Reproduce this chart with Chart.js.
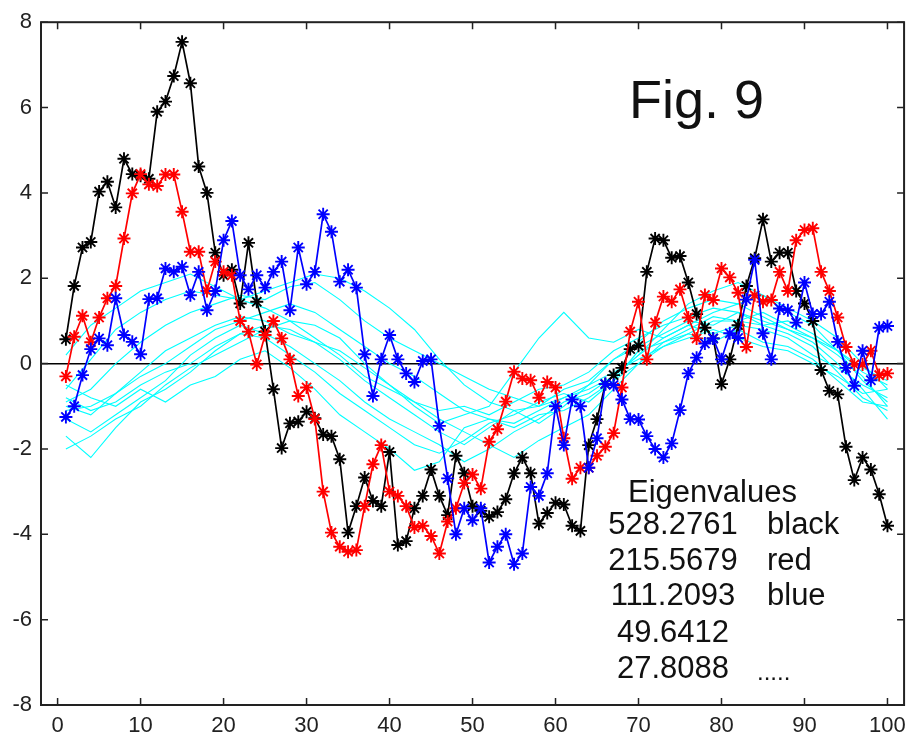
<!DOCTYPE html>
<html>
<head>
    <title>Fig. 9</title>
    <script src="https://cdn.jsdelivr.net/npm/chart.js@4.4.0/dist/chart.umd.min.js"></script>
    <style>
        body { margin: 0; background: #fff; }
    </style>
</head>
<body>
    <canvas id="chartcanvas" width="914" height="742"></canvas>

    <script>
        // samples 1..100
        const sampleIndex = [];
        for (let i = 1; i <= 100; i++) sampleIndex.push(i);

        const blackValues = [0.57, 1.82, 2.72, 2.85, 4.03, 4.26, 3.66, 4.8, 4.44, 4.4,
            4.33, 5.9, 6.14, 6.74, 7.54, 6.57, 4.62, 4.0, 2.6, 2.07,
            2.2, 1.41, 2.83, 1.45, 0.75, -0.6, -1.98, -1.4, -1.36, -1.13,
            -1.28, -1.66, -1.7, -2.24, -3.96, -3.34, -2.67, -3.22, -3.34, -2.07,
            -4.25, -4.16, -3.39, -3.1, -2.48, -3.1, -3.55, -2.16, -2.57, -3.34,
            -3.45, -3.59, -3.48, -3.18, -2.57, -2.2, -2.57, -3.75, -3.5, -3.26,
            -3.3, -3.8, -3.92, -1.91, -1.3, -0.48, -0.27, -0.1, 0.34, 0.42,
            2.15, 2.93, 2.89, 2.48, 2.52, 1.9, 1.16, 0.84, 0.59, -0.48,
            0.1, 0.9, 1.82, 2.47, 3.38, 2.39, 2.6, 2.6, 1.7, 1.41,
            1.0, -0.15, -0.64, -0.72, -1.95, -2.73, -2.2, -2.48, -3.06, -3.8];

        const redValues = [-0.3, 0.63, 1.12, 0.5, 1.08, 1.53, 1.82, 2.93, 3.99, 4.44,
            4.2, 4.16, 4.43, 4.43, 3.56, 2.62, 2.62, 1.7, 2.39, 2.15,
            2.07, 1.0, 0.75, -0.02, 0.67, 1.0, 0.59, 0.1, -0.76, -0.56,
            -1.3, -3.0, -3.96, -4.29, -4.41, -4.37, -3.34, -2.36, -1.91, -3.0,
            -3.1, -3.34, -3.84, -3.8, -4.04, -4.45, -3.7, -3.39, -2.8, -2.6,
            -2.93, -1.83, -1.54, -0.89, -0.19, -0.35, -0.39, -0.8, -0.43, -0.56,
            -1.75, -2.7, -2.44, -2.44, -2.16, -1.95, -1.63, -0.56, 0.75, 1.45,
            0.1, 0.96, 1.57, 1.45, 1.74, 1.08, 0.59, 1.61, 1.49, 2.23,
            2.02, 1.66, 0.39, 1.6, 1.45, 1.49, 2.15, 1.7, 2.89, 3.13,
            3.17, 2.15, 1.7, 1.08, 0.39, -0.02, -0.02, 0.3, -0.27, -0.23];

        const blueValues = [-1.25, -1.0, -0.27, 0.34, 0.59, 0.43, 1.53, 0.67, 0.51, 0.22,
            1.51, 1.53, 2.23, 2.15, 2.27, 1.6, 2.15, 1.25, 1.7, 2.89,
            3.34, 2.07, 1.74, 2.07, 1.78, 2.15, 2.39, 1.25, 2.72, 1.86,
            2.15, 3.5, 3.09, 1.92, 2.2, 1.78, 0.22, -0.76, 0.1, 0.67,
            0.1, -0.23, -0.43, 0.06, 0.1, -1.46, -2.69, -4.0, -3.39, -3.67,
            -3.39, -4.66, -4.29, -4.0, -4.7, -4.45, -2.89, -3.1, -2.57, -1.0,
            -1.91, -0.84, -1.0, -2.44, -1.75, -0.48, -0.5, -0.84, -1.3, -1.31,
            -1.7, -2.0, -2.2, -1.87, -1.09, -0.23, 0.14, 0.47, 0.59, 0.1,
            0.71, 0.6, 1.5, 2.43, 0.71, 0.1, 1.29, 1.25, 0.96, 1.9,
            1.16, 1.16, 1.45, 0.51, -0.1, -0.52, 0.3, -0.39, 0.84, 0.88];

        // the faint cyan components, read every 3rd sample
        const cyanIndex = [1, 4, 7, 10, 13, 16, 19, 22, 25, 28, 31, 34, 37, 40, 43, 46, 49,
            52, 55, 58, 61, 64, 67, 70, 73, 76, 79, 82, 85, 88, 91, 94, 97, 100];
        const cyan1 = [0.2, 0.9, 1.3, 1.7, 1.9, 2.1, 1.8, 1.5, 1.3, 1.0, 0.6, 0.2, -0.3, -0.6, -0.9, -1.1, -1.0,
            -1.2, -0.9, -0.6, -0.5, -0.2, 0.3, 0.6, 0.9, 1.1, 1.3, 1.2, 1.0, 0.8, 0.6, 0.3, -0.1, -0.4];
        const cyan2 = [-0.6, 0.1, 0.8, 1.2, 1.5, 1.7, 1.6, 1.5, 1.7, 1.9, 2.1, 2.0, 1.7, 1.3, 0.8, 0.1, -0.5,
            -0.9, -1.1, -1.0, -0.8, -0.6, -0.3, 0.2, 0.8, 1.4, 1.7, 1.9, 1.6, 1.3, 1.0, 0.6, 0.0, -0.6];
        const cyan3 = [-0.9, -0.6, 0.0, 0.5, 0.9, 1.2, 1.4, 1.6, 1.5, 1.8, 1.9, 1.5, 1.0, 0.6, 0.3, 0.0, -0.3,
            -0.6, -0.8, -1.0, -0.6, -0.4, 0.1, 0.5, 1.0, 1.3, 1.5, 1.4, 1.6, 1.2, 0.9, 0.3, -0.4, -0.9];
        const cyan4 = [-1.1, -1.0, -0.7, -0.2, 0.3, 0.6, 0.9, 1.1, 1.0, 0.7, 0.5, 0.3, -0.1, -0.5, -0.9, -1.3, -1.6,
            -1.9, -2.2, -1.8, -1.5, -1.2, -0.6, 0.0, 0.5, 0.8, 1.1, 1.0, 1.2, 0.9, 0.6, 0.2, -0.3, -1.0];
        const cyan5 = [-1.3, -1.6, -1.2, -0.8, -0.4, 0.2, 0.6, 0.9, 0.7, 0.4, 0.0, -0.4, -0.9, -1.3, -1.6, -1.9, -2.3,
            -2.0, -1.6, -1.3, -0.9, -0.7, -0.3, 0.2, 0.6, 0.9, 1.2, 1.4, 1.1, 0.8, 0.5, 0.0, -0.6, -1.3];
        const cyan6 = [-1.7, -2.2, -1.5, -0.9, -0.6, -0.2, 0.3, 0.7, 0.9, 0.8, 0.5, 0.1, -0.4, -0.8, -1.2, -1.6, -1.9,
            -1.5, -1.1, -1.4, -1.0, -0.5, 0.1, 0.4, 0.7, 1.0, 0.9, 1.2, 0.9, 0.7, 0.4, -0.2, -0.8, -1.1];
        const cyan7 = [-2.0, -1.7, -1.3, -1.0, -0.5, -0.1, 0.2, 0.5, 0.8, 1.0, 0.9, 0.6, 0.0, -0.5, -1.0, -1.4, -1.2,
            -1.0, -0.2, 0.6, 1.2, 0.6, 0.5, 0.8, 0.6, 0.9, 0.7, 0.9, 0.8, 0.6, 0.2, -0.1, -0.5, -0.8];
        const cyan8 = [-0.8, -1.1, -0.9, -0.5, -0.2, 0.0, 0.4, 0.7, 0.6, 0.2, -0.2, -0.7, -1.1, -1.5, -1.9, -2.1, -1.8,
            -1.4, -1.2, -0.9, -0.7, -0.9, -0.4, 0.3, 0.5, 0.7, 0.5, 0.8, 0.5, 0.4, 0.1, -0.4, -0.9, -1.0];
        const cyan9 = [-0.5, -0.8, -1.0, -0.6, -0.9, -0.5, -0.3, 0.1, 0.3, -0.1, -0.6, -1.2, -1.6, -2.0, -2.5, -2.3, -1.5,
            -1.3, -1.5, -1.2, -1.1, -0.8, -0.4, 0.0, 0.4, 0.6, 0.8, 0.6, 0.4, 0.3, 0.0, -0.3, -0.7, -0.6];
        const cyan10 = [-1.0, -1.2, -0.7, -0.3, 0.0, 0.4, 0.8, 1.0, 1.2, 1.4, 1.2, 0.8, 0.4, 0.0, -0.3, -0.7, -1.1,
            -1.3, -1.4, -1.1, -0.8, -0.5, -0.2, 0.1, 0.4, 0.7, 1.0, 1.0, 0.9, 1.0, 0.7, 0.3, -0.2, -0.5];
        const cyanSeries = [cyan1, cyan2, cyan3, cyan4, cyan5, cyan6, cyan7, cyan8, cyan9, cyan10];

        const xTicks = [0, 10, 20, 30, 40, 50, 60, 70, 80, 90, 100];
        const yTicks = [-8, -6, -4, -2, 0, 2, 4, 6, 8];

        const figTitle = 'Fig. 9';
        const eigenHeader = 'Eigenvalues';
        const eigenValues = ['528.2761', '215.5679', '111.2093', '49.6412', '27.8088'];
        const eigenNames = ['black', 'red', 'blue', '', '.....'];

        function toPoints(xs, ys) {
            return xs.map((v, i) => ({ x: v, y: ys[i] }));
        }

        const datasets = [];
        cyanSeries.forEach(s => {
            datasets.push({
                data: toPoints(cyanIndex, s),
                borderColor: '#00ffff',
                borderWidth: 1.1,
                pointRadius: 0,
                order: 5
            });
        });
        const marked = [
            [blackValues, '#000000', 3],
            [redValues, '#ff0000', 2],
            [blueValues, '#0000ff', 1]
        ];
        marked.forEach(m => {
            datasets.push({
                data: toPoints(sampleIndex, m[0]),
                borderColor: m[1],
                backgroundColor: m[1],
                borderWidth: 1.7,
                pointStyle: 'star',
                pointRadius: 6.5,
                pointBorderWidth: 1.9,
                pointBorderColor: m[1],
                order: m[2]
            });
        });

        const framePlugin = {
            id: 'frame',
            afterDraw(chart) {
                const ctx = chart.ctx;
                const a = chart.chartArea;
                const x = chart.scales.x;
                const y = chart.scales.y;
                ctx.save();
                ctx.strokeStyle = '#222';
                ctx.lineWidth = 2;
                ctx.strokeRect(a.left, a.top, a.right - a.left, a.bottom - a.top);
                ctx.lineWidth = 1.5;
                ctx.beginPath();
                xTicks.forEach(t => {
                    const px = x.getPixelForValue(t);
                    ctx.moveTo(px, a.bottom); ctx.lineTo(px, a.bottom - 7);
                    ctx.moveTo(px, a.top); ctx.lineTo(px, a.top + 7);
                });
                yTicks.forEach(t => {
                    const py = y.getPixelForValue(t);
                    ctx.moveTo(a.left, py); ctx.lineTo(a.left + 7, py);
                    ctx.moveTo(a.right, py); ctx.lineTo(a.right - 7, py);
                });
                ctx.stroke();

                ctx.fillStyle = '#111';
                ctx.textBaseline = 'alphabetic';
                ctx.font = '54px "Liberation Sans", Arial, sans-serif';
                ctx.textAlign = 'left';
                ctx.fillText(figTitle, 629, 118);

                ctx.font = '31px "Liberation Sans", Arial, sans-serif';
                ctx.fillText(eigenHeader, 628, 502);
                const baselines = [534, 570, 605, 642, 678];
                eigenValues.forEach((v, i) => {
                    ctx.textAlign = 'center';
                    ctx.fillText(v, 673, baselines[i]);
                    ctx.textAlign = 'left';
                    if (eigenNames[i] === '.....') {
                        ctx.font = '24px "Liberation Sans", Arial, sans-serif';
                        ctx.fillText(eigenNames[i], 757, baselines[i] + 2);
                        ctx.font = '31px "Liberation Sans", Arial, sans-serif';
                    } else {
                        ctx.fillText(eigenNames[i], 767, baselines[i]);
                    }
                });
                ctx.restore();
            }
        };

        const tickFont = { family: '"Liberation Sans", Arial, sans-serif', size: 22 };

        const chart = new Chart(document.getElementById('chartcanvas'), {
            type: 'line',
            data: { datasets: datasets },
            options: {
                responsive: false,
                animation: false,
                layout: { padding: { top: 21, right: 9, left: 0, bottom: 0 } },
                plugins: { legend: { display: false }, tooltip: { enabled: false } },
                elements: { line: { tension: 0 } },
                scales: {
                    x: {
                        type: 'linear',
                        min: -2,
                        max: 102,
                        afterBuildTicks: s => { s.ticks = xTicks.map(v => ({ value: v })); },
                        afterFit: s => { s.height = 37; },
                        grid: { display: false, drawTicks: false },
                        border: { display: false },
                        ticks: { font: tickFont, color: '#222', padding: 8, maxRotation: 0, autoSkip: false }
                    },
                    y: {
                        min: -8,
                        max: 8,
                        afterBuildTicks: s => { s.ticks = yTicks.map(v => ({ value: v })); },
                        afterFit: s => { s.width = 41; },
                        grid: {
                            drawTicks: false,
                            lineWidth: 1.5,
                            color: c => (c.tick && c.tick.value === 0) ? '#000' : 'rgba(0,0,0,0)'
                        },
                        border: { display: false },
                        ticks: { font: tickFont, color: '#222', padding: 9 }
                    }
                }
            },
            plugins: [framePlugin]
        });
    </script>
</body>
</html>
